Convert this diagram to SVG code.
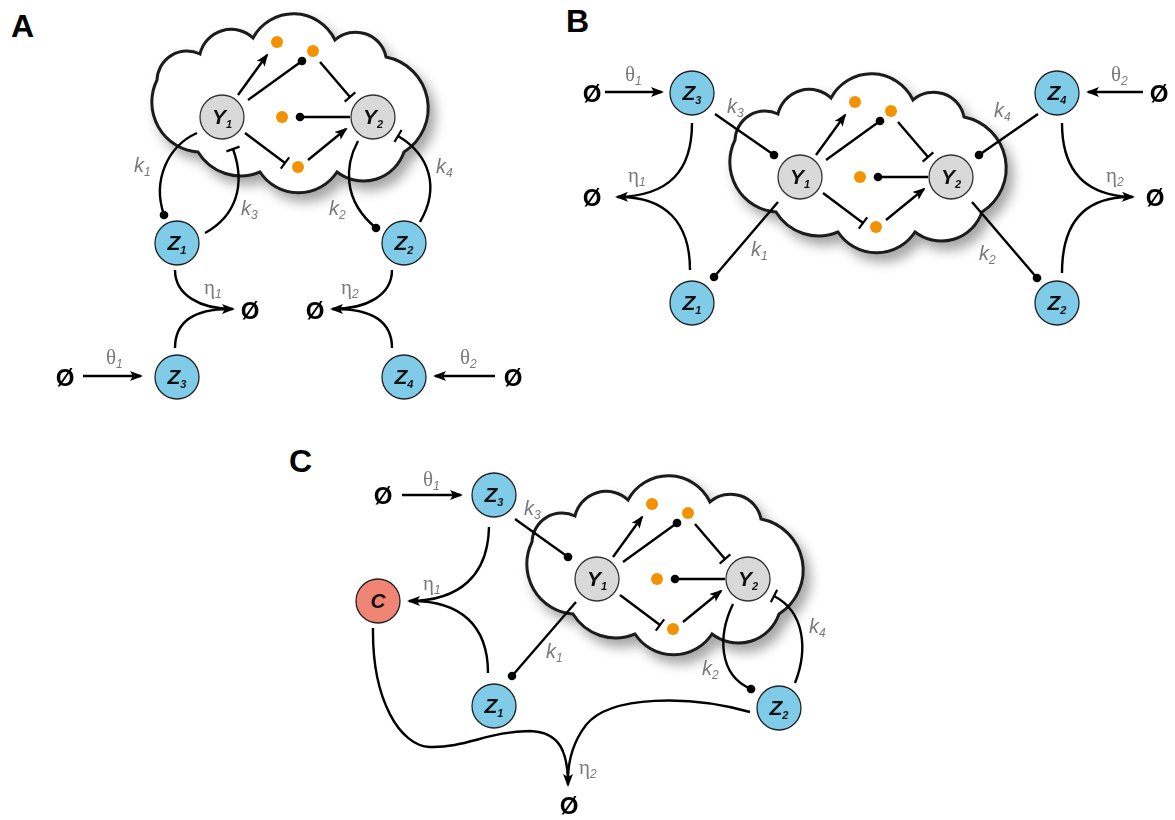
<svg xmlns="http://www.w3.org/2000/svg" xmlns:xlink="http://www.w3.org/1999/xlink" width="1175" height="820" viewBox="0 0 1175 820">
<style>
.ln{fill:none;stroke:#000;stroke-width:2.4}
.cloud{fill:#fff;stroke:#1a1a1a;stroke-width:3}
.y{fill:#d9d9d9;stroke:#333;stroke-width:1.3}
.z{fill:#80cce8;stroke:#222;stroke-width:1.3}
.c{fill:#f08576;stroke:#222;stroke-width:1.3}
.od{fill:#f39200}
.nt{font-family:"Liberation Sans",Arial,sans-serif;font-weight:bold;font-style:italic;font-size:21px;fill:#111}
.ns{font-size:11px}
.lk{font-family:"Liberation Sans",Arial,sans-serif;font-style:italic;font-size:20px;fill:#7a7a7a}
.lg{font-family:"Liberation Serif","Times New Roman",serif;font-size:21px;fill:#7a7a7a}
.sb{font-family:"Liberation Sans",Arial,sans-serif;font-style:italic;font-size:12px}
.null{font-family:"Liberation Sans",Arial,sans-serif;font-weight:bold;font-size:24px;fill:#000}
.pl{font-family:"Liberation Sans",Arial,sans-serif;font-weight:bold;font-size:32px;fill:#000}
</style>
<defs>
<filter id="sh" x="-20%" y="-20%" width="150%" height="160%">
<feDropShadow dx="6" dy="8" stdDeviation="6" flood-color="#000" flood-opacity="0.35"/>
</filter>
<marker id="arr" viewBox="0 0 13 10" refX="11" refY="5" markerWidth="13" markerHeight="10" markerUnits="userSpaceOnUse" orient="auto"><path d="M0,0 L13,5 L0,10 L3,5 Z" fill="#000"/></marker>
<marker id="bar" viewBox="-2 -8 4 16" refX="0" refY="0" markerWidth="4" markerHeight="16" markerUnits="userSpaceOnUse" orient="auto"><line x1="0" y1="-7" x2="0" y2="7" stroke="#000" stroke-width="2.2"/></marker>
<marker id="dot" viewBox="-5 -5 10 10" refX="0" refY="0" markerWidth="10" markerHeight="10" markerUnits="userSpaceOnUse" orient="auto"><circle r="4.3" fill="#000"/></marker>
<path id="cloudshape" class="cloud" d="M198,152 A50,50 0 0 1 157,80 A30,30 0 0 1 200,54 A32,32 0 0 1 253,38 A46,46 0 0 1 335,40 A31,31 0 0 1 386,57 A52,52 0 0 1 404,152 A43,43 0 0 1 337,172 A46,46 0 0 1 260,172 A50,50 0 0 1 198,152 Z"/>
<g id="innerlinks">
<line class="ln" x1="238" y1="95" x2="267" y2="55" marker-end="url(#arr)"/>
<line class="ln" x1="248" y1="100" x2="302" y2="61" marker-end="url(#dot)"/>
<line class="ln" x1="320" y1="62" x2="350" y2="97" marker-end="url(#bar)"/>
<line class="ln" x1="350" y1="117" x2="300" y2="117" marker-end="url(#dot)"/>
<line class="ln" x1="245" y1="133" x2="285" y2="163" marker-end="url(#bar)"/>
<line class="ln" x1="308" y1="160" x2="346" y2="129" marker-end="url(#arr)"/>
</g>
</defs>
<rect width="1175" height="820" fill="#fff"/>

<g id="panel-labels">
<text class="pl" x="11" y="37">A</text>
<text class="pl" x="566" y="32">B</text>
<text class="pl" x="289" y="472">C</text>
</g>

<g id="clouds" filter="url(#sh)">
<use xlink:href="#cloudshape"/>
<use xlink:href="#cloudshape" transform="translate(578,60)"/>
<use xlink:href="#cloudshape" transform="translate(375,462)"/>
</g>

<g id="connectors">
<use xlink:href="#innerlinks"/>
<path class="ln" d="M197,133 C168,146 152,180 164,215" marker-end="url(#dot)"/>
<path class="ln" d="M205,233 C236,216 246,185 233,149" marker-end="url(#bar)"/>
<path class="ln" d="M358,141 C345,165 342,200 376,228" marker-end="url(#dot)"/>
<path class="ln" d="M420,222 C440,188 430,155 398,136" marker-end="url(#bar)"/>
<path class="ln" d="M175,270 C175,295 200,309 233,309" marker-end="url(#arr)"/>
<path class="ln" d="M175,348 C175,318 200,309 230,309"/>
<path class="ln" d="M392,270 C392,295 367,309 332,309" marker-end="url(#arr)"/>
<path class="ln" d="M392,348 C392,318 367,309 335,309"/>
<line class="ln" x1="83" y1="376" x2="141" y2="376" marker-end="url(#arr)"/>
<line class="ln" x1="495" y1="376" x2="435" y2="376" marker-end="url(#arr)"/>
<use xlink:href="#innerlinks" transform="translate(578,60)"/>
<line class="ln" x1="605" y1="92" x2="662" y2="92" marker-end="url(#arr)"/>
<line class="ln" x1="715" y1="114" x2="774" y2="155" marker-end="url(#dot)"/>
<line class="ln" x1="778" y1="202" x2="714" y2="277" marker-end="url(#dot)"/>
<path class="ln" d="M692,123 C692,170 670,196 617,197" marker-end="url(#arr)"/>
<path class="ln" d="M690,270 C690,222 665,197 620,197"/>
<line class="ln" x1="1143" y1="92" x2="1088" y2="92" marker-end="url(#arr)"/>
<line class="ln" x1="1038" y1="114" x2="979" y2="155" marker-end="url(#dot)"/>
<line class="ln" x1="972" y1="202" x2="1037" y2="278" marker-end="url(#dot)"/>
<path class="ln" d="M1062,123 C1062,170 1085,196 1133,197" marker-end="url(#arr)"/>
<path class="ln" d="M1062,273 C1062,222 1085,197 1130,197"/>
<use xlink:href="#innerlinks" transform="translate(375,462)"/>
<line class="ln" x1="402" y1="495" x2="461" y2="495" marker-end="url(#arr)"/>
<line class="ln" x1="515" y1="519" x2="568" y2="557" marker-end="url(#dot)"/>
<line class="ln" x1="576" y1="602" x2="512" y2="676" marker-end="url(#dot)"/>
<path class="ln" d="M489,527 C488,575 460,601 409,601" marker-end="url(#arr)"/>
<path class="ln" d="M488,673 C488,625 460,601 412,601"/>
<path class="ln" d="M733,604 C718,635 718,675 751,689" marker-end="url(#dot)"/>
<path class="ln" d="M795,683 C808,650 805,612 774,596" marker-end="url(#bar)"/>
<path class="ln" d="M373,628 C372,700 400,746 430,747 C465,748 490,731 530,731 C560,732 568,752 568,785" marker-end="url(#arr)"/>
<path class="ln" d="M750,712 C690,695 610,695 586,725 C573,742 568,760 568,780"/>
</g>

<g id="labels">
<text class="lk" x="134" y="172">k<tspan class="sb" dy="4">1</tspan></text>
<text class="lk" x="241" y="215">k<tspan class="sb" dy="4">3</tspan></text>
<text class="lk" x="329" y="215">k<tspan class="sb" dy="4">2</tspan></text>
<text class="lk" x="436" y="173">k<tspan class="sb" dy="4">4</tspan></text>
<text class="lg" x="204" y="294">η<tspan class="sb" dy="4">1</tspan></text>
<text class="lg" x="341" y="294">η<tspan class="sb" dy="4">2</tspan></text>
<text class="lg" x="106" y="364">θ<tspan class="sb" dy="4">1</tspan></text>
<text class="lg" x="460" y="364">θ<tspan class="sb" dy="4">2</tspan></text>

<text class="lg" x="625" y="81">θ<tspan class="sb" dy="4">1</tspan></text>
<text class="lk" x="727" y="113">k<tspan class="sb" dy="4">3</tspan></text>
<text class="lk" x="751" y="256">k<tspan class="sb" dy="4">1</tspan></text>
<text class="lg" x="628" y="182">η<tspan class="sb" dy="4">1</tspan></text>
<text class="lg" x="1111" y="81">θ<tspan class="sb" dy="4">2</tspan></text>
<text class="lk" x="994" y="117">k<tspan class="sb" dy="4">4</tspan></text>
<text class="lk" x="979" y="260">k<tspan class="sb" dy="4">2</tspan></text>
<text class="lg" x="1106" y="182">η<tspan class="sb" dy="4">2</tspan></text>

<text class="lg" x="423" y="486">θ<tspan class="sb" dy="4">1</tspan></text>
<text class="lk" x="524" y="515">k<tspan class="sb" dy="4">3</tspan></text>
<text class="lg" x="423" y="590">η<tspan class="sb" dy="4">1</tspan></text>
<text class="lk" x="546" y="658">k<tspan class="sb" dy="4">1</tspan></text>
<text class="lk" x="702" y="675">k<tspan class="sb" dy="4">2</tspan></text>
<text class="lk" x="809" y="633">k<tspan class="sb" dy="4">4</tspan></text>
<text class="lg" x="579" y="774">η<tspan class="sb" dy="4">2</tspan></text>
</g>

<g id="nulls">
<text class="null" x="250" y="319" text-anchor="middle">Ø</text>
<text class="null" x="315" y="319" text-anchor="middle">Ø</text>
<text class="null" x="65" y="386" text-anchor="middle">Ø</text>
<text class="null" x="513" y="386" text-anchor="middle">Ø</text>
<text class="null" x="592" y="102" text-anchor="middle">Ø</text>
<text class="null" x="592" y="206" text-anchor="middle">Ø</text>
<text class="null" x="1159" y="102" text-anchor="middle">Ø</text>
<text class="null" x="1155" y="206" text-anchor="middle">Ø</text>
<text class="null" x="383" y="504" text-anchor="middle">Ø</text>
<text class="null" x="569" y="814" text-anchor="middle">Ø</text>
</g>

<g id="A-Y1"><circle class="y" cx="222" cy="117" r="22"/><text class="nt" x="222" y="124" text-anchor="middle">Y<tspan class="ns" dy="4">1</tspan></text></g>
<g id="A-Y2"><circle class="y" cx="373" cy="117" r="22"/><text class="nt" x="373" y="124" text-anchor="middle">Y<tspan class="ns" dy="4">2</tspan></text></g>
<g id="A-dots"><circle class="od" cx="277" cy="42" r="6"/><circle class="od" cx="313" cy="51" r="6"/><circle class="od" cx="282" cy="117" r="6"/><circle class="od" cx="298" cy="167" r="6"/></g>
<g id="A-Z1"><circle class="z" cx="177" cy="243" r="22"/><text class="nt" x="177" y="250" text-anchor="middle">Z<tspan class="ns" dy="4">1</tspan></text></g>
<g id="A-Z2"><circle class="z" cx="404" cy="243" r="22"/><text class="nt" x="404" y="250" text-anchor="middle">Z<tspan class="ns" dy="4">2</tspan></text></g>
<g id="A-Z3"><circle class="z" cx="177" cy="377" r="22"/><text class="nt" x="177" y="384" text-anchor="middle">Z<tspan class="ns" dy="4">3</tspan></text></g>
<g id="A-Z4"><circle class="z" cx="404" cy="377" r="22"/><text class="nt" x="404" y="384" text-anchor="middle">Z<tspan class="ns" dy="4">4</tspan></text></g>

<g id="B-Y1"><circle class="y" cx="800" cy="177" r="22"/><text class="nt" x="800" y="184" text-anchor="middle">Y<tspan class="ns" dy="4">1</tspan></text></g>
<g id="B-Y2"><circle class="y" cx="951" cy="177" r="22"/><text class="nt" x="951" y="184" text-anchor="middle">Y<tspan class="ns" dy="4">2</tspan></text></g>
<g id="B-dots"><circle class="od" cx="855" cy="102" r="6"/><circle class="od" cx="891" cy="111" r="6"/><circle class="od" cx="860" cy="177" r="6"/><circle class="od" cx="876" cy="227" r="6"/></g>
<g id="B-Z3"><circle class="z" cx="692" cy="93" r="22"/><text class="nt" x="692" y="100" text-anchor="middle">Z<tspan class="ns" dy="4">3</tspan></text></g>
<g id="B-Z1"><circle class="z" cx="692" cy="303" r="22"/><text class="nt" x="692" y="310" text-anchor="middle">Z<tspan class="ns" dy="4">1</tspan></text></g>
<g id="B-Z4"><circle class="z" cx="1057" cy="93" r="22"/><text class="nt" x="1057" y="100" text-anchor="middle">Z<tspan class="ns" dy="4">4</tspan></text></g>
<g id="B-Z2"><circle class="z" cx="1057" cy="303" r="22"/><text class="nt" x="1057" y="310" text-anchor="middle">Z<tspan class="ns" dy="4">2</tspan></text></g>

<g id="C-Y1"><circle class="y" cx="597" cy="579" r="22"/><text class="nt" x="597" y="586" text-anchor="middle">Y<tspan class="ns" dy="4">1</tspan></text></g>
<g id="C-Y2"><circle class="y" cx="748" cy="579" r="22"/><text class="nt" x="748" y="586" text-anchor="middle">Y<tspan class="ns" dy="4">2</tspan></text></g>
<g id="C-dots"><circle class="od" cx="652" cy="504" r="6"/><circle class="od" cx="688" cy="513" r="6"/><circle class="od" cx="657" cy="579" r="6"/><circle class="od" cx="673" cy="629" r="6"/></g>
<g id="C-Z3"><circle class="z" cx="494" cy="495" r="22"/><text class="nt" x="494" y="502" text-anchor="middle">Z<tspan class="ns" dy="4">3</tspan></text></g>
<g id="C-C"><circle class="c" cx="378" cy="601" r="22"/><text class="nt" x="378" y="608" text-anchor="middle">C</text></g>
<g id="C-Z1"><circle class="z" cx="494" cy="706" r="22"/><text class="nt" x="494" y="713" text-anchor="middle">Z<tspan class="ns" dy="4">1</tspan></text></g>
<g id="C-Z2"><circle class="z" cx="779" cy="708" r="22"/><text class="nt" x="779" y="715" text-anchor="middle">Z<tspan class="ns" dy="4">2</tspan></text></g>
</svg>
